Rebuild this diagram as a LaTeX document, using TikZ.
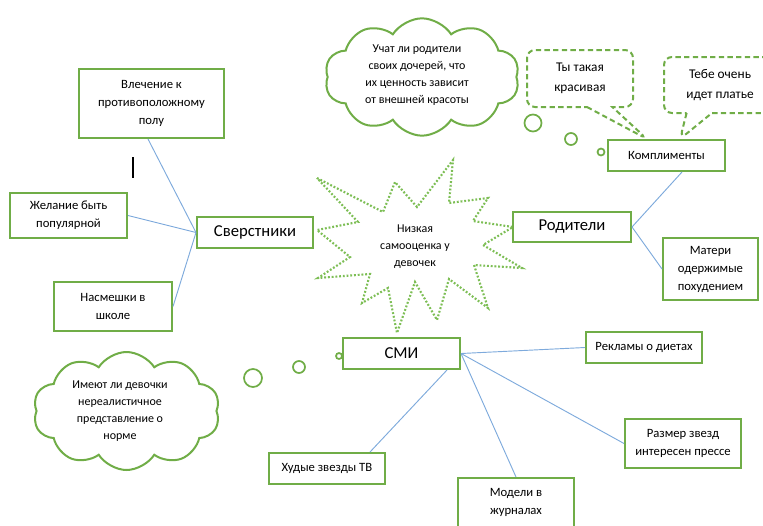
\documentclass[tikz,border=0pt]{standalone}
\usepackage{fontspec}
\setmainfont{Carlito}
\usetikzlibrary{shapes.symbols,shapes.callouts,calc}
\definecolor{grn}{HTML}{70AD47}
\definecolor{lgrn}{HTML}{7DBE55}
\definecolor{lblue}{HTML}{7EAADC}
\begin{document}
\begin{tikzpicture}[x=0.75pt,y=-0.75pt,
  box/.style={draw=grn,line width=1.5pt,fill=white,align=center,inner sep=0pt,
    font=\fontsize{9.5}{13.5}\selectfont},
  bigbox/.style={box,font=\fontsize{12.5}{15}\selectfont},
  link/.style={draw=lblue,line width=0.7pt},
  stardot/.style={draw=lgrn,line width=1.6pt,dash pattern=on 1.4pt off 1.4pt},
  cloudbox/.style={cloud,draw=grn,line width=1.5pt,cloud puffs=10,cloud puff arc=115,
    cloud ignores aspect,inner sep=0pt},
  cloudtext/.style={align=center,font=\fontsize{9}{12.8}\selectfont},
  callbox/.style={rectangle callout,draw=grn,line width=1.5pt,dash pattern=on 4pt off 2.5pt,
    rounded corners=6pt,callout pointer width=19pt,align=center,inner sep=0pt,
    font=\fontsize{10}{15}\selectfont},
  bub/.style={draw=grn,line width=1.3pt}]
\useasboundingbox (0,0) rectangle (763,525);

% star
\draw[stardot] (317,178) -- (383,212) -- (395,182) -- (417,207) -- (453,160) -- (449,203)
  -- (488,198) -- (473,221) -- (513,227) -- (483,245) -- (522,268) -- (474,265)
  -- (488,308) -- (449,279) -- (437,320) -- (415,282) -- (397,333) -- (388,288)
  -- (362,303) -- (370,274) -- (318,278) -- (350,257) -- (317,230) -- (358,222) -- cycle;
\node[align=center,font=\fontsize{9}{12.8}\selectfont] (star) at (415,247) {Низкая\\самооценка у\\девочек};

% left group
\node[box,minimum width=108.75pt,minimum height=51.75pt] (vlech) at (151.5,103.5) {Влечение к\\противоположному\\полу};
\node[box,minimum width=87.75pt,minimum height=33.75pt] (zhel) at (68.5,215.5) {Желание быть\\популярной};
\node[bigbox,minimum width=87pt,minimum height=23.25pt] (sver) at (255,232.5) {Сверстники};
\node[box,minimum width=88.5pt,minimum height=36.75pt] (nasm) at (113,306.5) {Насмешки в\\школе};
\coordinate (va) at (133,157);
\coordinate (vb) at (133,178);
\draw[line width=0.8pt] (va) -- (vb);
\draw[link] (sver.west) -- ($(vlech.south)+(-3.5,0)$);
\draw[link] (sver.west) -- (zhel.east);
\draw[link] (sver.west) -- (nasm.east);

% right group
\node[bigbox,minimum width=88.5pt,minimum height=22.5pt] (rodit) at (572,227) {Родители};
\node[box,minimum width=71.25pt,minimum height=46.5pt] (mater) at (710.5,269) {Матери\\одержимые\\похудением};
\node[box,minimum width=87.75pt,minimum height=23.25pt] (kompl) at (666.5,155.5) {Комплименты};
\draw[link] (rodit.east) -- ($(kompl.south)+(15.5,0)$);
\draw[link] (rodit.east) -- (mater.west);

% callouts
\coordinate (tipA) at (647,139);
\coordinate (tipB) at (680,139);
\node[callbox,minimum width=79.5pt,minimum height=42.75pt,callout absolute pointer={(tipA)}] (tytak) at (580,78.5) {Ты такая\\красивая};
\node[callbox,minimum width=84pt,minimum height=42pt,callout absolute pointer={(tipB)}] (tebe) at (720,85) {Тебе очень\\идет платье};

% top cloud
\node[cloudbox,minimum width=146pt,minimum height=88pt] (cloudA) at (422,77) {};
\node[cloudtext] (cloudAtext) at (417,75) {Учат ли родители\\своих дочерей, что\\их ценность зависит\\от внешней красоты};
\draw[bub] (533,123) circle[radius=8.5];
\draw[bub] (571,139) circle[radius=6];
\draw[bub] (601,152) circle[radius=3.5];

% bottom group
\node[bigbox,minimum width=87.75pt,minimum height=23.25pt] (smi) at (401.5,353.5) {СМИ};
\node[box,minimum width=87pt,minimum height=23.25pt] (reklam) at (644,347.5) {Рекламы о диетах};
\node[box,minimum width=87pt,minimum height=36.75pt] (razmer) at (683,443.5) {Размер звезд\\интересен прессе};
\node[box,minimum width=87pt,minimum height=36.75pt] (model) at (516,502.5) {Модели в\\журналах};
\node[box,minimum width=87pt,minimum height=23.25pt] (hudye) at (327,468.5) {Худые звезды ТВ};
\draw[link] (smi.east) -- (reklam.west);
\draw[link] (smi.east) -- (razmer.west);
\draw[link] (smi.east) -- (model.north);
\draw[link] ($(smi.south)+(45.5,0)$) -- ($(hudye.north)+(43,0)$);

% bottom cloud
\node[cloudbox,minimum width=140pt,minimum height=88.5pt] (cloudB) at (126.5,411) {};
\node[cloudtext] (cloudBtext) at (120,411) {Имеют ли девочки\\нереалистичное\\представление о\\норме};
\draw[bub] (253,378) circle[radius=9];
\draw[bub] (299,367) circle[radius=6];
\draw[bub] (339,356) circle[radius=3];
\end{tikzpicture}
\end{document}
